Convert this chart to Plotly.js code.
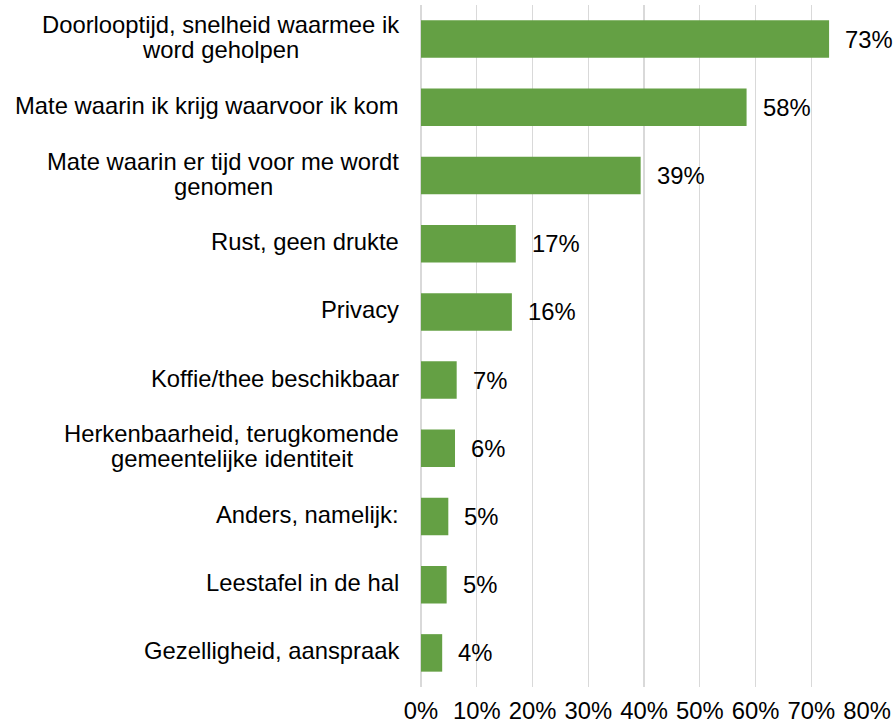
<!DOCTYPE html>
<html>
<head>
<meta charset="utf-8">
<script src="https://cdn.plot.ly/plotly-3.0.1.min.js"></script>
<style>html,body{margin:0;padding:0;background:#fff;}#chart{width:893px;height:725px;}</style>
</head>
<body>
<div id="chart"></div>
<script>
const categories = [
  'Doorlooptijd, snelheid waarmee ik<br>word geholpen',
  'Mate waarin ik krijg waarvoor ik kom',
  'Mate waarin er tijd voor me wordt<br>genomen',
  'Rust, geen drukte',
  'Privacy',
  'Koffie/thee beschikbaar',
  'Herkenbaarheid, terugkomende<br>gemeentelijke identiteit',
  'Anders, namelijk:',
  'Leestafel in de hal',
  'Gezelligheid, aanspraak'
];
const values = [73.2, 58.4, 39.4, 17.0, 16.3, 6.4, 6.1, 4.9, 4.6, 3.8];
const valueLabels = ['73%', '58%', '39%', '17%', '16%', '7%', '6%', '5%', '5%', '4%'];
const xTickVals = [0, 10, 20, 30, 40, 50, 60, 70, 80];
const xTickText = ['0%', '10%', '20%', '30%', '40%', '50%', '60%', '70%', '80%'];

const FONT = 'Liberation Sans, Arial, sans-serif';
const FS = 23.8;
const LINE_H = 25;
const GAP = 22;

const canvas = document.createElement('canvas');
const ctx = canvas.getContext('2d');
ctx.font = FS + 'px "Liberation Sans"';

const annotations = [];
categories.forEach(function (cat, idx) {
  const lines = cat.split('<br>');
  const widths = lines.map(function (l) { return ctx.measureText(l).width; });
  const maxW = Math.max.apply(null, widths);
  lines.forEach(function (line, i) {
    annotations.push({
      xref: 'paper', yref: 'y', x: 0, y: cat,
      xanchor: 'center', yanchor: 'middle',
      xshift: -(GAP + maxW / 2),
      yshift: ((lines.length - 1) / 2 - i) * LINE_H + 2,
      text: line, showarrow: false,
      font: {family: FONT, size: FS, color: '#000'}
    });
  });
});
values.forEach(function (v, i) {
  annotations.push({
    xref: 'x', yref: 'y', x: v, y: categories[i],
    xanchor: 'left', yanchor: 'middle', xshift: 14,
    text: valueLabels[i], showarrow: false,
    font: {family: FONT, size: FS, color: '#000'}
  });
});

const trace = {
  type: 'bar', orientation: 'h',
  x: values, y: categories,
  width: 0.55,
  marker: {color: '#64A044'},
  hoverinfo: 'none'
};

const layout = {
  width: 893, height: 725,
  margin: {l: 421, r: 26, t: 5, b: 38, pad: 0},
  paper_bgcolor: '#fff', plot_bgcolor: '#fff',
  showlegend: false,
  font: {family: FONT, size: FS, color: '#000'},
  xaxis: {
    range: [0, 80], tickvals: xTickVals, ticktext: xTickText,
    showgrid: true, gridcolor: '#d9d9d9', gridwidth: 1.2,
    zeroline: true, zerolinecolor: '#d9d9d9', zerolinewidth: 1.2,
    showline: false, ticks: '', ticklabelstandoff: 7,
    tickfont: {family: FONT, size: FS, color: '#000'},
    fixedrange: true
  },
  yaxis: {
    type: 'category', categoryorder: 'array', categoryarray: categories,
    autorange: 'reversed', showticklabels: false, showgrid: false,
    zeroline: false, showline: false, ticks: '', fixedrange: true
  },
  annotations: annotations,
  bargap: 0.45
};

Plotly.newPlot('chart', [trace], layout, {displayModeBar: false, staticPlot: true});
</script>
</body>
</html>
